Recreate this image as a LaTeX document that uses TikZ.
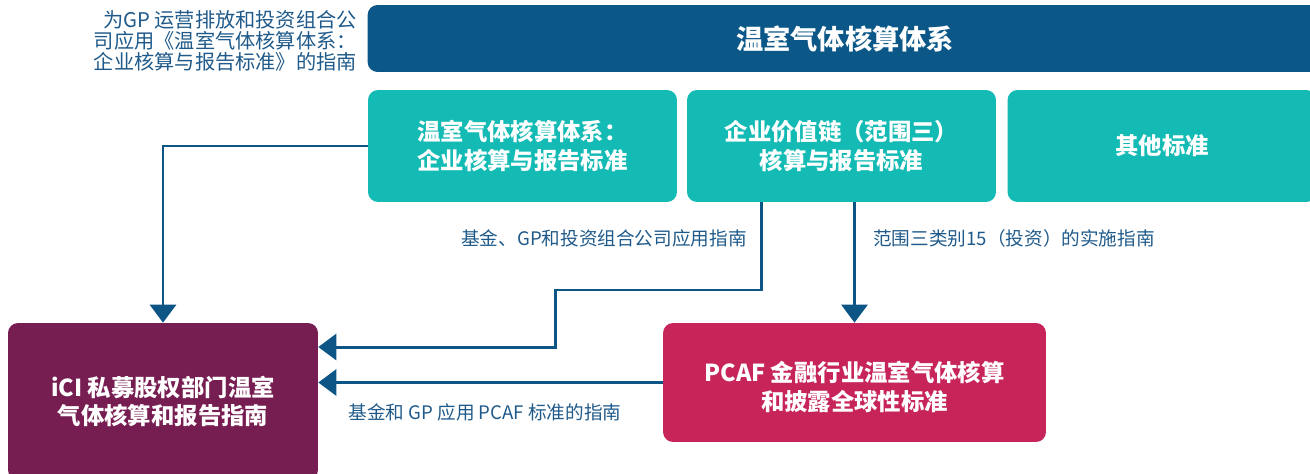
\documentclass[tikz,border=0pt]{standalone}
\usepackage{fontspec}
\setmainfont{Noto Sans CJK SC}
\usepackage{xcolor}
\usepackage{tikz}
\usetikzlibrary{calc}
\usetikzlibrary{arrows.meta}
\definecolor{ghgblue}{HTML}{0B5788}
\definecolor{ghgteal}{HTML}{13BBB4}
\definecolor{icipurple}{HTML}{761D51}
\definecolor{pcafred}{HTML}{C7255A}
\definecolor{flowblue}{HTML}{0D5585}
\definecolor{labelblue}{HTML}{1F5A8A}

\begin{document}
\begin{tikzpicture}[x=0.02cm, y=-0.02cm,
  box/.style={rounded corners=0.2cm, text=white, align=center, inner sep=0pt, font=\fontsize{13.3}{16.2}\selectfont\bfseries},
  tealbox/.style={box, fill=ghgteal, minimum width=6.18cm, minimum height=2.24cm},
  flow/.style={draw=flowblue, line width=1.7pt, -{Triangle[width=0.52cm,length=0.36cm]}},
  guide/.style={text=labelblue, inner sep=0pt, font=\fontsize{10.6}{13}\selectfont}]
\clip (0,0) rectangle (1310,473);
\begin{scope}
  \node[box, fill=ghgblue, minimum width=19.1cm, minimum height=1.34cm, font=\fontsize{15.5}{18}\selectfont\bfseries] (ghg) at (845,38.5) {温室气体核算体系}; %banner
  \node[guide, anchor=east, align=right, font=\fontsize{11.5}{11.9}\selectfont] (gpnote) at (357,41) {为GP 运营排放和投资组合公\\司应用《温室气体核算体系：\\企业核算与报告标准》的指南};
  \node[tealbox] (corp) at (522.5,146) {温室气体核算体系：\\企业核算与报告标准}; %corporate
  \node[tealbox] (scope3) at (841.5,146) {企业价值链（范围三）\\核算与报告标准}; %scope 3
  \node[tealbox] (other) at (1162,146) {其他标准}; %other
  \node[box, fill=icipurple, minimum width=6.2cm, minimum height=3.14cm] (ici) at (163,401.5) {iCI 私募股权部门温室\\气体核算和报告指南}; %iCI
  \node[box, fill=pcafred, minimum width=7.66cm, minimum height=2.38cm] (pcaf) at (854.5,382.5) {\raisebox{-0.15cm}[\height][\depth]{\begin{tabular}{@{}c@{}}PCAF 金融行业温室气体核算\\和披露全球性标准\end{tabular}}}; %PCAF
  \node[guide, anchor=east] (fundnote) at (747,238) {基金、GP和投资组合公司应用指南};
  \node[guide, anchor=west] (cat15note) at (873,238) {范围三类别15（投资）的实施指南};
  \node[guide] (pcafnote) at (485,412) {基金和 GP 应用 PCAF 标准的指南};
  \coordinate (bend) at (555,290);
  \draw[flow] (corp.west) -| (ici.north);
  \draw[flow] ([xshift=-1.6cm]scope3.south) |- (bend) |- ([yshift=1.09cm]ici.east);
  \draw[flow] (scope3.south -| pcaf.north) -- (pcaf.north);
  \draw[flow] (pcaf.west) -- (pcaf.west -| ici.east);
\end{scope}
\end{tikzpicture}
\end{document}
